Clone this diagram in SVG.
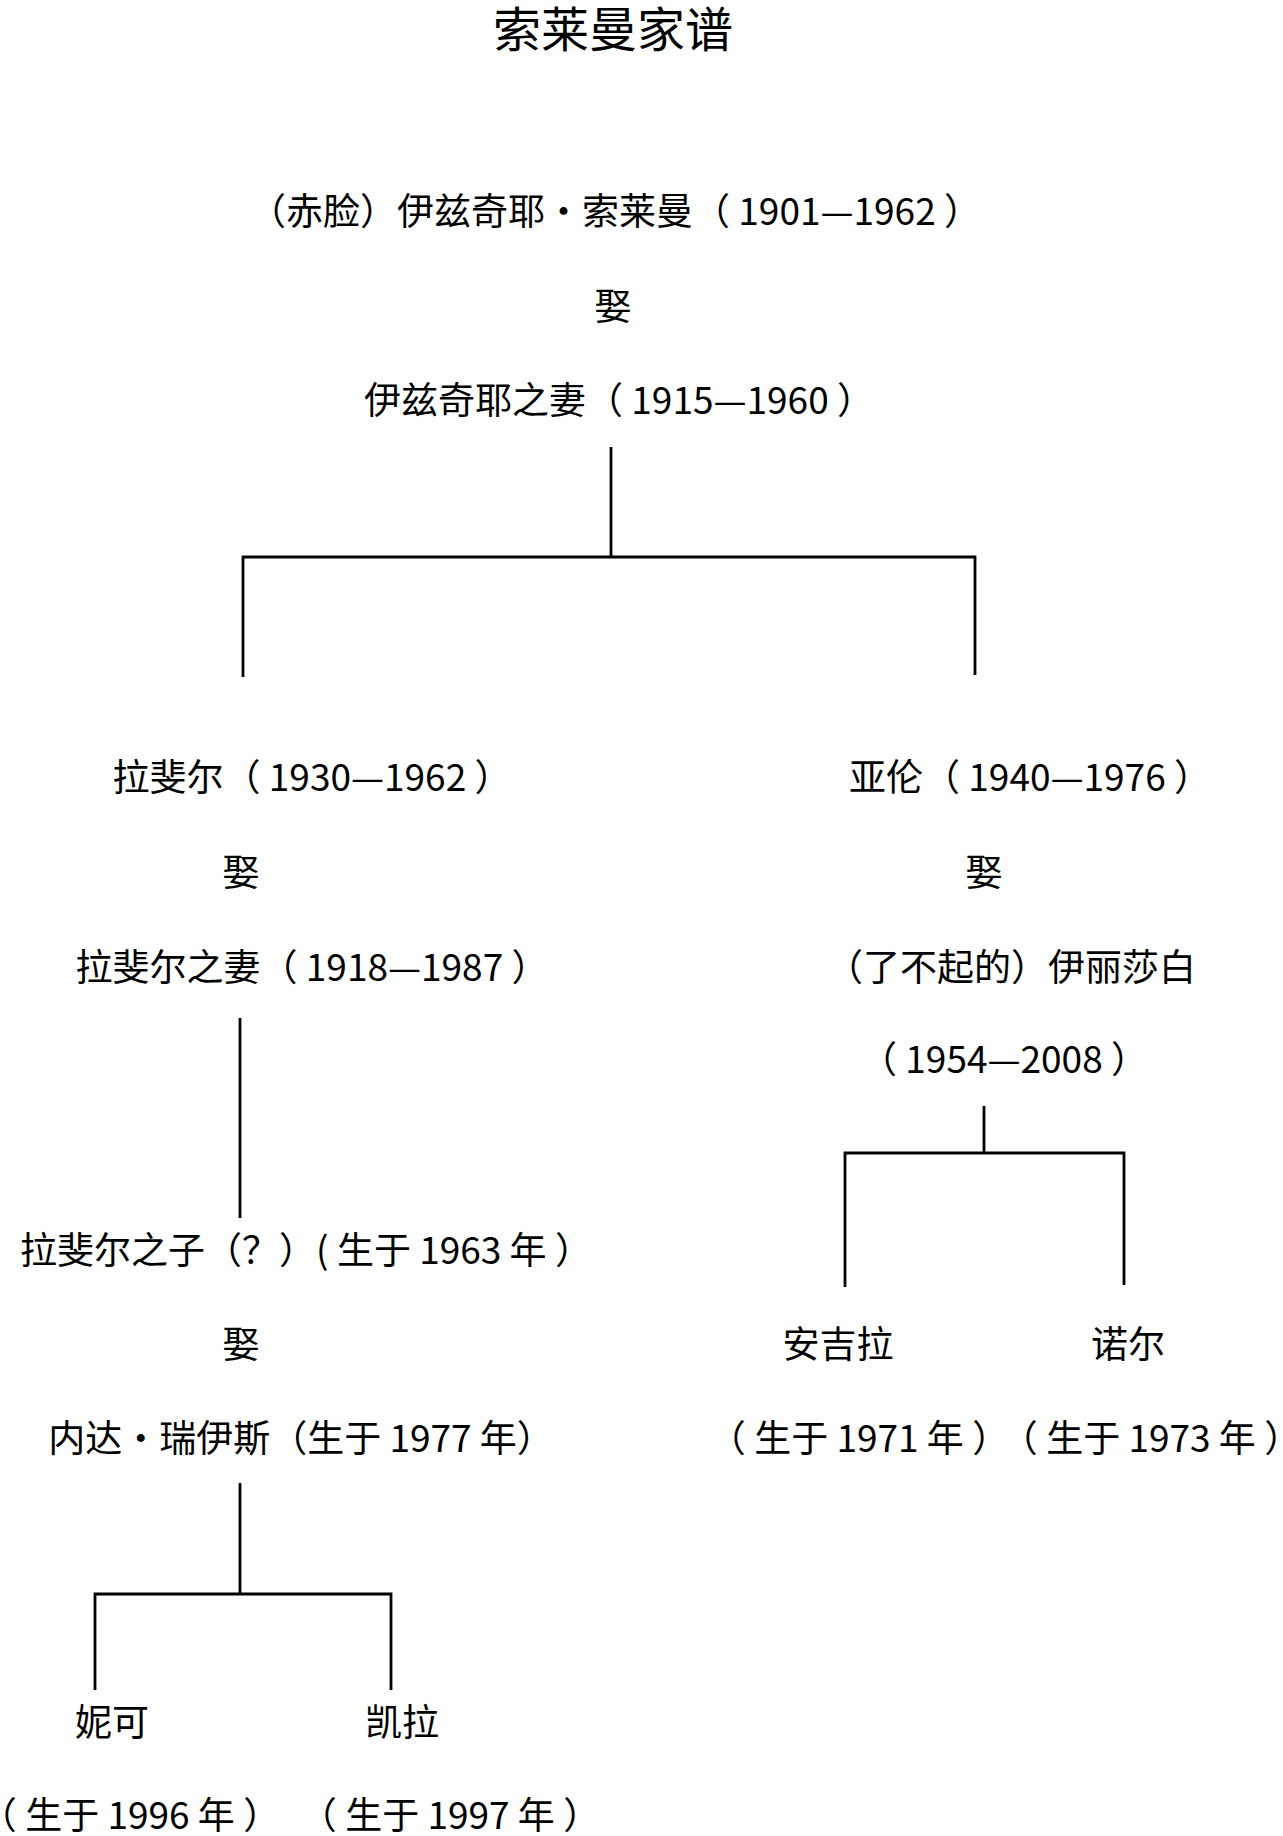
<svg xmlns="http://www.w3.org/2000/svg" width="1283" height="1836" viewBox="0 0 1283 1836">
<style>
text{font-family:"Noto Sans CJK SC","Noto Sans",sans-serif;fill:#000;text-anchor:middle;font-size:37px}
.title{font-size:48px}
.ln{stroke:#000;stroke-width:2.8;fill:none}
</style>
<rect width="1283" height="1836" fill="#fff"/>
<text id="title" class="title" x="613" y="47">索莱曼家谱</text>
<g id="connectors">
<path class="ln" d="M611 447V557M243 677V557H975V675"/>
<path class="ln" d="M240 1018V1218"/>
<path class="ln" d="M984 1106V1153M845 1287V1153H1124V1285"/>
<path class="ln" d="M240 1483V1594M95 1690V1594H391V1690"/>
</g>
<g id="izzy"><text x="615" y="225">（赤脸）伊兹奇耶·索莱曼（ 1901—1962 ）</text></g>
<g id="m1"><text x="613" y="320">娶</text></g>
<g id="izzy-wife"><text x="619" y="414">伊兹奇耶之妻（ 1915—1960 ）</text></g>
<g id="raphael"><text x="312" y="791">拉斐尔（ 1930—1962 ）</text></g>
<g id="m2"><text x="241" y="886">娶</text></g>
<g id="raphael-wife"><text x="312" y="981">拉斐尔之妻（ 1918—1987 ）</text></g>
<g id="aaron"><text x="1030" y="791">亚伦（ 1940—1976 ）</text></g>
<g id="m3"><text x="984" y="886">娶</text></g>
<g id="elizabeth"><text x="1011" y="981">（了不起的）伊丽莎白</text><text x="1004" y="1073">（ 1954—2008 ）</text></g>
<g id="raphael-son"><text x="306" y="1264">拉斐尔之子（？）( 生于 1963 年 ）</text></g>
<g id="m4"><text x="241" y="1358">娶</text></g>
<g id="neda"><text x="301" y="1452">内达·瑞伊斯（生于 1977 年）</text></g>
<g id="angela"><text x="838" y="1358">安吉拉</text><text x="859" y="1452">（ 生于 1971 年 ）</text></g>
<g id="noel"><text x="1128" y="1358">诺尔</text><text x="1151" y="1452">（ 生于 1973 年 ）</text></g>
<g id="nicole"><text x="112" y="1736">妮可</text><text x="130" y="1829">（ 生于 1996 年 ）</text></g>
<g id="kyla"><text x="402" y="1736">凯拉</text><text x="450" y="1829">（ 生于 1997 年 ）</text></g>
</svg>
